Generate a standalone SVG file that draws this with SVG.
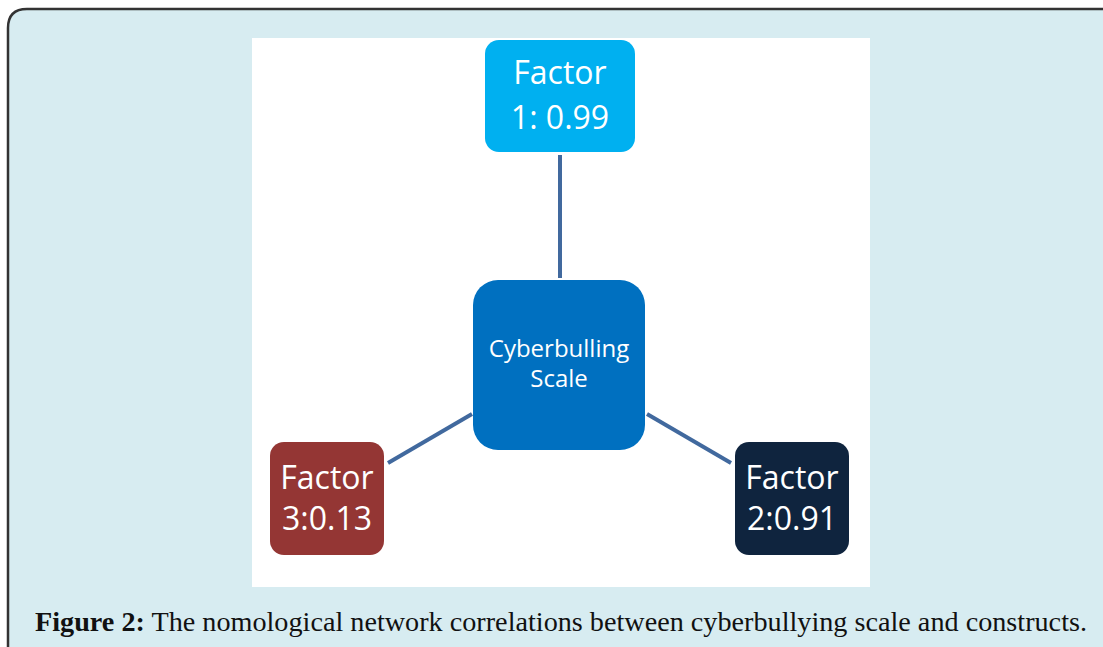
<svg xmlns="http://www.w3.org/2000/svg" width="1103" height="647" viewBox="0 0 1103 647">
<style>
.node-text{font-family:"Open Sans","Liberation Sans",sans-serif;fill:#ffffff;text-anchor:middle}
.big{font-size:32px}
.mid{font-size:24px}
.conn{stroke:#41699e;stroke-width:4;fill:none}
.cap{font-family:"Liberation Serif",serif;font-size:28px;fill:#111111}
</style>
<rect width="1103" height="647" fill="#ffffff"/>
<path d="M8 660 V28 Q8 9 27 9 H1120 V660 Z" fill="#d7ecf1" stroke="#333333" stroke-width="2.5"/>
<rect x="252" y="38" width="618" height="549" fill="#ffffff"/>
<g id="connectors">
<line class="conn" x1="560" y1="155" x2="560" y2="278"/>
<line class="conn" x1="388" y1="463" x2="472" y2="414"/>
<line class="conn" x1="647" y1="414" x2="731" y2="463"/>
</g>
<g id="factor1">
<rect x="485" y="40" width="150" height="112" rx="14" fill="#00b0f0"/>
<text class="node-text big" x="560" y="84">Factor</text>
<text class="node-text big" x="560" y="129">1: 0.99</text>
</g>
<g id="scale">
<rect x="473" y="280" width="172" height="170" rx="25" fill="#0070c0"/>
<text class="node-text mid" x="559" y="357">Cyberbulling</text>
<text class="node-text mid" x="559" y="387">Scale</text>
</g>
<g id="factor3">
<rect x="270" y="442" width="114" height="113" rx="14" fill="#943634"/>
<text class="node-text big" x="327" y="489">Factor</text>
<text class="node-text big" x="327" y="530">3:0.13</text>
</g>
<g id="factor2">
<rect x="735" y="442" width="114" height="113" rx="14" fill="#0f243e"/>
<text class="node-text big" x="792" y="489">Factor</text>
<text class="node-text big" x="792" y="530">2:0.91</text>
</g>
<text class="cap" x="35" y="631" textLength="1052" lengthAdjust="spacingAndGlyphs"><tspan font-weight="bold">Figure 2:</tspan> The nomological network correlations between cyberbullying scale and constructs.</text>
</svg>
